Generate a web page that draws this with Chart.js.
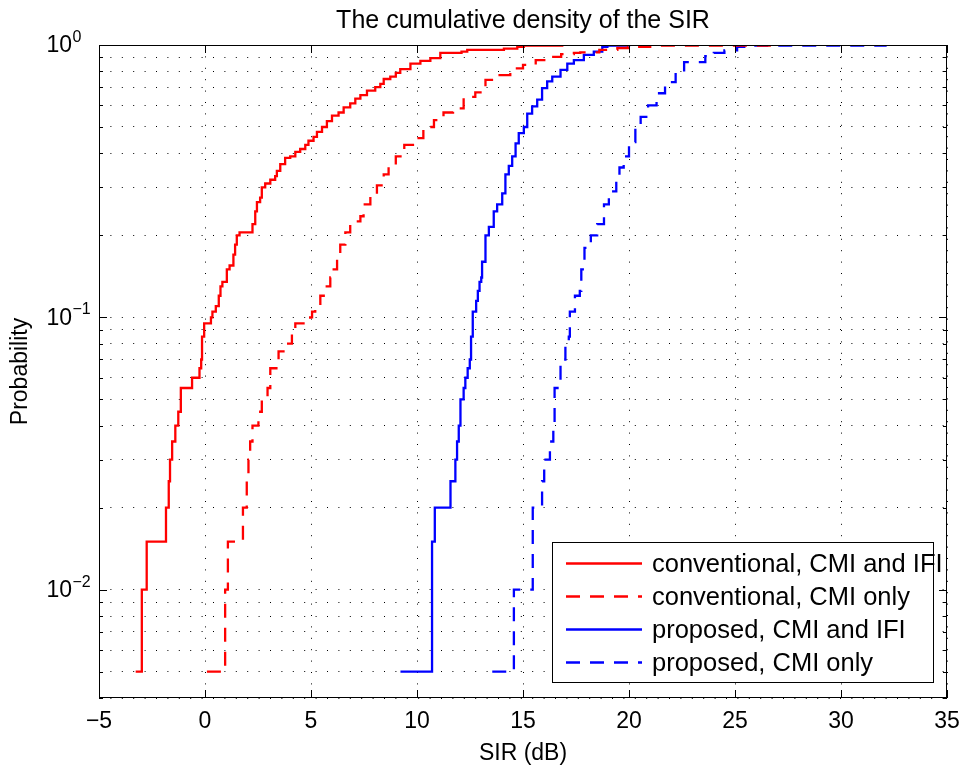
<!DOCTYPE html>
<html>
<head>
<meta charset="utf-8">
<script src="https://cdn.jsdelivr.net/npm/chart.js@4.4.0/dist/chart.umd.min.js"></script>
<style>
  html, body { margin: 0; padding: 0; background: #fff; }
</style>
</head>
<body>
<canvas id="chart" width="965" height="767"></canvas>
<script>
const FONT = '"Liberation Sans", Arial, Helvetica, sans-serif';
const TITLE = 'The cumulative density of the SIR';

// axis ticks
const xTicks = [-5, 0, 5, 10, 15, 20, 25, 30, 35];
const yGrid = [0.004, 0.005, 0.006, 0.007, 0.008, 0.009,
    0.01, 0.02, 0.03, 0.04, 0.05, 0.06, 0.07, 0.08, 0.09,
    0.1, 0.2, 0.3, 0.4, 0.5, 0.6, 0.7, 0.8, 0.9, 1];
const yMajor = [0.01, 0.1, 1];
const yMajorExp = ['\u22122', '\u22121', '0'];

// conventional, CMI and IFI
const convBothSir = [-3.27, -2.98, -2.75, -1.84, -1.71, -1.65, -1.55, -1.40, -1.26, -1.14,
    -0.61, -0.26, -0.18, -0.14, -0.04, 0.28, 0.35, 0.51, 0.65, 0.73,
    0.82, 1.03, 1.16, 1.34, 1.42, 1.50, 1.63, 2.24, 2.37, 2.45,
    2.60, 2.68, 2.84, 3.08, 3.31, 3.39, 3.55, 3.78, 4.02, 4.26,
    4.49, 4.73, 4.88, 5.12, 5.28, 5.52, 5.75, 5.99, 6.30, 6.54,
    6.85, 7.09, 7.33, 7.64, 8.03, 8.27, 8.43, 8.74, 9.00, 9.21,
    9.69, 10.16, 10.63, 11.10, 12.10, 12.37, 14.10, 14.73, 15.04, 16.85];
const convBothProb = [0.005, 0.01, 0.015, 0.02, 0.025, 0.03, 0.035, 0.04, 0.045, 0.055,
    0.06, 0.065, 0.07, 0.085, 0.095, 0.10, 0.105, 0.11, 0.12, 0.13,
    0.135, 0.15, 0.155, 0.17, 0.185, 0.2, 0.205, 0.22, 0.245, 0.265,
    0.275, 0.30, 0.31, 0.32, 0.33, 0.345, 0.365, 0.385, 0.39, 0.405,
    0.415, 0.43, 0.445, 0.46, 0.48, 0.50, 0.525, 0.55, 0.565, 0.59,
    0.61, 0.635, 0.655, 0.68, 0.70, 0.72, 0.75, 0.765, 0.79, 0.815,
    0.855, 0.875, 0.895, 0.935, 0.945, 0.96, 0.97, 0.985, 0.995, 1.0];

// conventional, CMI only
const convCmiSir = [0.09, 0.95, 1.08, 1.79, 1.97, 2.05, 2.13, 2.24, 2.52, 2.68,
    2.95, 3.08, 3.47, 3.78, 4.10, 4.26, 4.96, 5.05, 5.20, 5.44,
    5.60, 5.91, 6.07, 6.23, 6.38, 6.62, 6.85, 7.33, 7.48, 7.80,
    8.11, 8.43, 8.66, 9.00, 9.40, 9.90, 10.30, 10.80, 11.25, 11.70,
    12.20, 12.75, 13.23, 13.80, 14.40, 15.00, 15.60, 16.15, 16.80, 17.40,
    17.70, 18.60, 19.45, 19.95, 21.00, 27.10];
const convCmiProb = [0.005, 0.01, 0.015, 0.02, 0.025, 0.03, 0.035, 0.04, 0.045, 0.05,
    0.055, 0.065, 0.075, 0.08, 0.09, 0.095, 0.10, 0.105, 0.11, 0.12,
    0.13, 0.14, 0.15, 0.17, 0.185, 0.205, 0.225, 0.235, 0.26, 0.28,
    0.305, 0.335, 0.36, 0.39, 0.43, 0.455, 0.50, 0.53, 0.565, 0.585,
    0.645, 0.67, 0.745, 0.775, 0.82, 0.845, 0.88, 0.905, 0.925, 0.935,
    0.94, 0.96, 0.975, 0.985, 0.995, 1.0];

// proposed, CMI and IFI
const propBothSir = [9.22, 10.71, 10.84, 11.58, 11.81, 11.89, 11.97, 12.05, 12.20, 12.28,
    12.39, 12.49, 12.55, 12.63, 12.79, 12.87, 12.95, 13.03, 13.07, 13.23,
    13.39, 13.62, 13.78, 14.02, 14.17, 14.33, 14.49, 14.65, 14.80, 15.04,
    15.20, 15.43, 15.67, 15.90, 16.14, 16.38, 16.77, 17.09, 17.40, 17.87,
    18.34, 18.74, 18.98, 20.00];
const propBothProb = [0.005, 0.015, 0.02, 0.025, 0.03, 0.035, 0.04, 0.05, 0.055, 0.06,
    0.065, 0.07, 0.085, 0.105, 0.115, 0.125, 0.135, 0.14, 0.16, 0.20,
    0.215, 0.245, 0.26, 0.285, 0.335, 0.36, 0.39, 0.435, 0.475, 0.50,
    0.56, 0.595, 0.63, 0.695, 0.735, 0.765, 0.81, 0.855, 0.88, 0.92,
    0.945, 0.985, 0.995, 1.0];

// proposed, CMI only
const propCmiSir = [13.55, 14.57, 15.46, 15.90, 16.00, 16.27, 16.43, 16.49, 16.77, 17.00,
    17.16, 17.21, 17.45, 17.68, 17.75, 17.82, 17.90, 18.20, 18.50, 18.82,
    19.05, 19.40, 19.55, 19.75, 20.00, 20.30, 20.55, 20.90, 21.30, 21.70,
    22.20, 22.60, 23.60, 24.00, 24.50, 25.10, 25.60, 32.10];
const propCmiProb = [0.005, 0.01, 0.02, 0.025, 0.03, 0.035, 0.04, 0.055, 0.07, 0.08,
    0.085, 0.105, 0.12, 0.125, 0.15, 0.16, 0.18, 0.20, 0.22, 0.26,
    0.29, 0.32, 0.355, 0.39, 0.44, 0.495, 0.545, 0.60, 0.665, 0.73,
    0.79, 0.865, 0.91, 0.935, 0.955, 0.985, 0.995, 1.0];

function toPoints(xs, ps) {
    return xs.map((x, i) => ({ x: x, y: ps[i] }));
}

function makeSet(label, xs, ps, color, dash) {
    return {
        label: label,
        data: toPoints(xs, ps),
        borderColor: color,
        backgroundColor: color,
        borderWidth: 2.3,
        borderDash: dash,
        stepped: true,
        pointRadius: 0,
        fill: false
    };
}

// frame, inward ticks, 10^n labels and the title, matlab style
const matlabAxes = {
    id: 'matlabAxes',
    afterDraw(chart) {
        const ctx = chart.ctx;
        const a = chart.chartArea;
        const xs = chart.scales.x;
        const ys = chart.scales.y;
        ctx.save();
        ctx.strokeStyle = '#000';
        ctx.lineWidth = 1;
        ctx.beginPath();
        xs.ticks.forEach(t => {
            const px = Math.round(xs.getPixelForValue(t.value)) + 0.5;
            ctx.moveTo(px, a.bottom);
            ctx.lineTo(px, a.bottom - 8);
            ctx.moveTo(px, a.top);
            ctx.lineTo(px, a.top + 8);
        });
        ys.ticks.forEach(t => {
            const py = Math.round(ys.getPixelForValue(t.value)) + 0.5;
            const len = yMajor.includes(t.value) ? 8 : 4;
            ctx.moveTo(a.left, py);
            ctx.lineTo(a.left + len, py);
            ctx.moveTo(a.right, py);
            ctx.lineTo(a.right - len, py);
        });
        ctx.stroke();
        ctx.strokeRect(Math.round(a.left) + 0.5, Math.round(a.top) + 0.5,
            Math.round(a.right - a.left) - 1, Math.round(a.bottom - a.top) - 1);

        ctx.fillStyle = '#000';
        yMajor.forEach((v, i) => {
            const py = ys.getPixelForValue(v);
            ctx.font = '23px ' + FONT;
            ctx.textAlign = 'right';
            ctx.textBaseline = 'middle';
            ctx.fillText('10', 72, py + 1);
            ctx.font = '16px ' + FONT;
            ctx.textAlign = 'left';
            ctx.textBaseline = 'alphabetic';
            ctx.fillText(yMajorExp[i], 72.5, py - 3);
        });

        ctx.font = '25px ' + FONT;
        ctx.textAlign = 'center';
        ctx.textBaseline = 'alphabetic';
        ctx.fillText(TITLE, (a.left + a.right) / 2, 28);
        ctx.restore();
    }
};

// boxed legend in the lower right corner
const boxLegend = {
    id: 'boxLegend',
    afterDatasetsDraw(chart) {
        const ctx = chart.ctx;
        const a = chart.chartArea;
        const right = a.right - 14;
        const bottom = a.bottom - 16;
        const left = right - 381;
        const top = bottom - 140;
        ctx.save();
        ctx.fillStyle = '#fff';
        ctx.fillRect(left, top, right - left, bottom - top);
        ctx.strokeStyle = '#000';
        ctx.lineWidth = 1;
        ctx.strokeRect(left + 0.5, top + 0.5, right - left, bottom - top);
        chart.data.datasets.forEach((ds, i) => {
            const y = top + 21.5 + i * 33;
            ctx.strokeStyle = ds.borderColor;
            ctx.lineWidth = ds.borderWidth;
            ctx.setLineDash(ds.borderDash || []);
            ctx.beginPath();
            ctx.moveTo(left + 14, y);
            ctx.lineTo(left + 90, y);
            ctx.stroke();
            ctx.setLineDash([]);
            ctx.fillStyle = '#000';
            ctx.font = '25.5px ' + FONT;
            ctx.textAlign = 'left';
            ctx.textBaseline = 'middle';
            ctx.fillText(ds.label, left + 100, y + 1);
        });
        ctx.restore();
    }
};

const dotted = [1, 10.4];

new Chart(document.getElementById('chart'), {
    type: 'line',
    data: {
        datasets: [
            makeSet('conventional, CMI and IFI', convBothSir, convBothProb, '#ff0000', []),
            makeSet('conventional, CMI only', convCmiSir, convCmiProb, '#ff0000', [14, 10]),
            makeSet('proposed, CMI and IFI', propBothSir, propBothProb, '#0000ff', []),
            makeSet('proposed, CMI only', propCmiSir, propCmiProb, '#0000ff', [14, 10])
        ]
    },
    options: {
        responsive: false,
        animation: false,
        devicePixelRatio: 1,
        layout: { padding: { left: 0, right: 18, top: 45, bottom: 0 } },
        plugins: {
            legend: { display: false },
            tooltip: { enabled: false },
            title: { display: false }
        },
        scales: {
            x: {
                type: 'linear',
                min: -5,
                max: 35,
                afterBuildTicks: s => { s.ticks = xTicks.map(v => ({ value: v })); },
                afterFit: s => { s.height = 69; s.paddingLeft = 0; s.paddingRight = 0; },
                ticks: {
                    autoSkip: false,
                    maxRotation: 0,
                    color: '#000',
                    padding: 10,
                    font: { family: FONT, size: 23 },
                    callback: v => String(v).replace('-', '\u2212')
                },
                grid: { color: '#000', lineWidth: 1, drawTicks: false },
                border: { display: false, dash: dotted },
                title: {
                    display: true,
                    text: 'SIR (dB)',
                    color: '#000',
                    font: { family: FONT, size: 23 },
                    padding: { top: 0, bottom: 0 }
                }
            },
            y: {
                type: 'logarithmic',
                min: 0.004,
                max: 1,
                afterBuildTicks: s => { s.ticks = yGrid.map(v => ({ value: v, major: yMajor.includes(v) })); },
                afterFit: s => { s.width = 99; s.paddingTop = 0; s.paddingBottom = 0; },
                ticks: { display: false },
                grid: { color: '#000', lineWidth: 1, drawTicks: false },
                border: { display: false, dash: dotted },
                title: {
                    display: true,
                    text: 'Probability',
                    color: '#000',
                    font: { family: FONT, size: 23 },
                    padding: { top: 7, bottom: 0 }
                }
            }
        }
    },
    plugins: [boxLegend, matlabAxes]
});
</script>
</body>
</html>
